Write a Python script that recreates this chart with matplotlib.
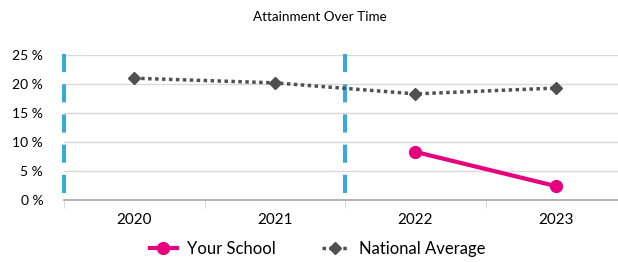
import matplotlib.pyplot as plt
from matplotlib.ticker import FixedLocator

plt.rcParams['font.family'] = ['Lato', 'DejaVu Sans']

# Данные
years = ["2020", "2021", "2022", "2023"]
school = [None, None, 8.3, 2.4]
national = [21.0, 20.2, 18.3, 19.3]
yticks = [0, 5, 10, 15, 20, 25]
boundaries = [-0.5, 1.5]

fig = plt.figure(figsize=(6.18, 2.62), dpi=100)
ax = fig.add_axes([64 / 618, 62 / 262, 562 / 618, 145 / 262])

x = list(range(len(years)))

# Граница периодов (рисуем сверху вниз)
for b in boundaries:
    ax.plot([b, b], [25.2, 0], color="#3AA8DD", linewidth=2.9,
            linestyle=(0, (4.5, 3)), zorder=3, clip_on=False)

sx = [i for i, v in zip(x, school) if v is not None]
sy = [v for v in school if v is not None]
ax.plot(sx, sy, color="#E6007E", linewidth=3, marker="o", markersize=8.5,
        label="Your School", zorder=4)
ax.plot(x, national, color="#505050", linewidth=2.5, linestyle=(0, (1, 1)),
        marker="D", markersize=6, label="National Average", zorder=4)

ax.set_xlim(-0.5, 3.5)
ax.set_ylim(0, 25)
ax.set_yticks(yticks)
ax.set_yticklabels([f"{t} %" for t in yticks], fontsize=10)
ax.set_xticks(x)
ax.set_xticklabels(years, fontsize=11)
ax.xaxis.set_minor_locator(FixedLocator([-0.5, 0.5, 1.5, 2.5, 3.5]))
ax.tick_params(axis="x", which="major", length=0, pad=9)
ax.tick_params(axis="x", which="minor", length=6, color="#D0D0D0")
ax.tick_params(axis="y", length=0, pad=15)

ax.grid(axis="y", color="#D9D9D9", linewidth=1)
ax.set_axisbelow(True)
for s in ["top", "right", "left"]:
    ax.spines[s].set_visible(False)
ax.spines["bottom"].set_color("#A6A6A6")
ax.spines["bottom"].set_linewidth(1.2)

fig.text(0.518, 1 - 17 / 262, "Attainment Over Time", ha="center", va="center", fontsize=9.7)
fig.legend(loc="center", bbox_to_anchor=(0.514, 1 - 249 / 262), ncol=2, frameon=False,
           fontsize=12, handlelength=1.6, columnspacing=2.8, handletextpad=0.6)

fig.savefig("out.png", dpi=100)
